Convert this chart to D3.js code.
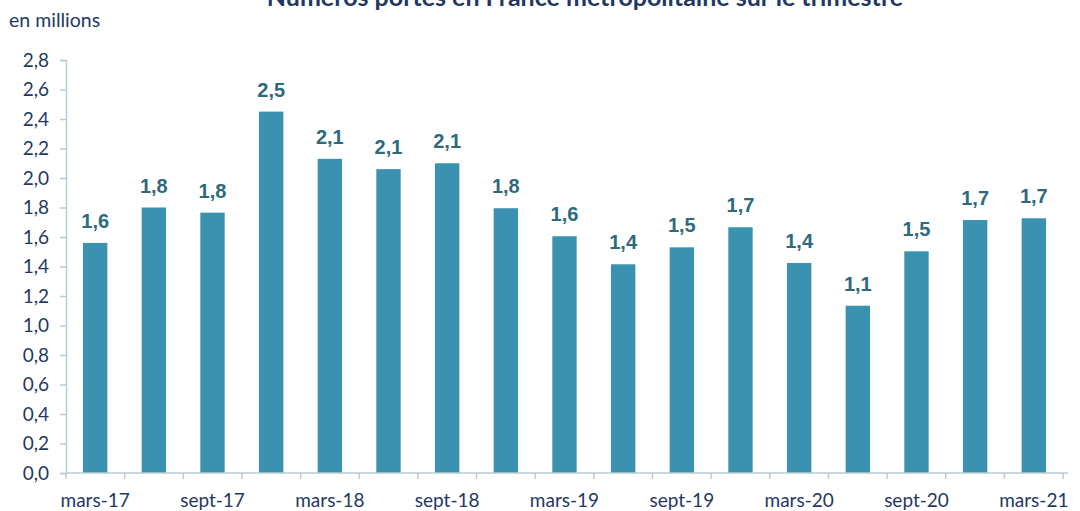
<!DOCTYPE html>
<html><head><meta charset="utf-8">
<script src="https://cdn.jsdelivr.net/npm/d3@7"></script>
<style>body{margin:0;background:#fff;}svg{display:block;}</style>
</head><body>
<svg id="c" width="1080" height="511"></svg>
<script>
const categories = ["mars-17","juin-17","sept-17","déc-17","mars-18","juin-18","sept-18","déc-18","mars-19","juin-19","sept-19","déc-19","mars-20","juin-20","sept-20","déc-20","mars-21"];
const values = [1.56,1.80,1.765,2.45,2.13,2.06,2.10,1.795,1.605,1.415,1.53,1.666,1.424,1.134,1.503,1.715,1.727];
const dataLabels = ["1,6","1,8","1,8","2,5","2,1","2,1","2,1","1,8","1,6","1,4","1,5","1,7","1,4","1,1","1,5","1,7","1,7"];
const xTickLabels = ["mars-17","sept-17","mars-18","sept-18","mars-19","sept-19","mars-20","sept-20","mars-21"];
const yTicks = [0,0.2,0.4,0.6,0.8,1.0,1.2,1.4,1.6,1.8,2.0,2.2,2.4,2.6,2.8];
const title = "Numéros portés en France métropolitaine sur le trimestre";
const unitLabel = "en millions";

const svg = d3.select("#c");
const axisCol = "#b9ccd5", textCol = "#1f3864", barCol = "#3a91b0", lblCol = "#2d6a7c";
const font = "Lato, 'Open Sans', sans-serif";
const x = d3.scaleBand().domain(categories).range([66, 1063]).paddingInner(0.585).paddingOuter(0.29);
const xb = d3.scaleLinear().domain([0, categories.length]).range([66, 1063]);
const y = d3.scaleLinear().domain([0, 2.8]).range([473, 60]);
const fmt = v => d3.format(".1f")(v).replace(".", ",");

svg.append("text").attr("x", 585).attr("y", 6).attr("text-anchor", "middle")
  .attr("font-family", font).attr("font-weight", "bold")
  .attr("font-size", 25).attr("fill", textCol).text(title);
svg.append("text").attr("x", 9).attr("y", 27)
  .attr("font-family", font).attr("font-size", 19.5).attr("fill", textCol).text(unitLabel);

// y axis
const ya = svg.append("g").attr("transform", "translate(66,0)")
  .call(d3.axisLeft(y).tickValues(yTicks).tickFormat(fmt).tickSizeOuter(0).tickSize(6).tickPadding(11));
ya.select(".domain").attr("stroke", axisCol).attr("stroke-width", 1.5);
ya.selectAll(".tick line").attr("stroke", axisCol).attr("stroke-width", 1.5);
ya.selectAll("text").attr("font-family", font).attr("font-size", 19).attr("fill", textCol);

// bars
svg.append("g").selectAll("rect").data(values).join("rect")
  .attr("x", (d, i) => x(categories[i])).attr("width", x.bandwidth())
  .attr("y", d => y(d)).attr("height", d => y(0) - y(d)).attr("fill", barCol);

svg.append("g").selectAll("text").data(values).join("text")
  .attr("x", (d, i) => x(categories[i]) + x.bandwidth() / 2).attr("y", d => y(d) - 15)
  .attr("text-anchor", "middle").attr("font-family", "'Liberation Sans', Arial, sans-serif")
  .attr("font-weight", "bold").attr("font-size", 20).attr("fill", lblCol)
  .text((d, i) => dataLabels[i]);

// x axis
const xg = svg.append("g");
xg.append("line").attr("x1", 66).attr("x2", 1068).attr("y1", y(0)).attr("y2", y(0))
  .attr("stroke", axisCol).attr("stroke-width", 1.5);
xg.selectAll("line.t").data(d3.range(categories.length + 1)).join("line").attr("class", "t")
  .attr("x1", d => xb(d)).attr("x2", d => xb(d)).attr("y1", y(0)).attr("y2", y(0) + 6)
  .attr("stroke", axisCol).attr("stroke-width", 1.5);
xg.selectAll("text").data(xTickLabels).join("text")
  .attr("x", d => x(d) + x.bandwidth() / 2).attr("y", 507).attr("text-anchor", "middle")
  .attr("font-family", font).attr("font-size", 19).attr("fill", textCol).text(d => d);
</script>
</body></html>
